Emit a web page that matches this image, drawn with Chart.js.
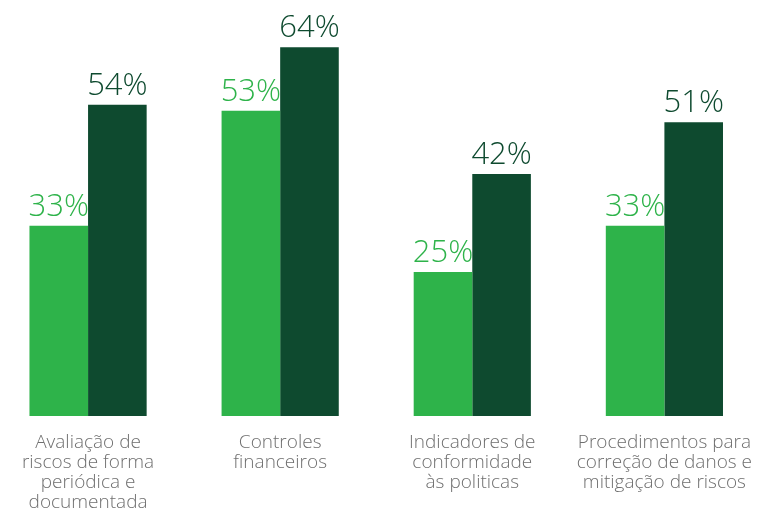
<!DOCTYPE html>
<html>
<head>
<meta charset="utf-8">
<script src="https://cdn.jsdelivr.net/npm/chart.js@4"></script>
<style>
  html, body { margin: 0; padding: 0; background: #fff; overflow: hidden; }
  #wrap { position: absolute; left: -8px; top: 0; width: 769px; height: 513px; }
</style>
</head>
<body>
<div id="wrap"><canvas id="chart"></canvas></div>
<script>
const categories = [
    ['Avaliação de', 'riscos de forma', 'periódica e', 'documentada'],
    ['Controles', 'financeiros'],
    ['Indicadores de', 'conformidade', 'às politicas'],
    ['Procedimentos para', 'correção de danos e', 'mitigação de riscos']
];
const seriesLight = [33, 53, 25, 33];
const seriesDark = [54, 64, 42, 51];

const LIGHT = '#2eb34a';
const DARK = '#0e4a2f';
const FONT = "'Open Sans', 'DejaVu Sans', sans-serif";

// valores em cima das barras
const valueLabels = {
    id: 'valueLabels',
    afterDatasetsDraw(chart) {
        const ctx = chart.ctx;
        ctx.save();
        ctx.font = `300 31px ${FONT}`;
        ctx.textAlign = 'center';
        ctx.textBaseline = 'alphabetic';
        chart.data.datasets.forEach((ds, i) => {
            const meta = chart.getDatasetMeta(i);
            ctx.fillStyle = ds.backgroundColor;
            meta.data.forEach((bar, j) => {
                ctx.fillText(ds.data[j] + '%', bar.x, bar.y - 10);
            });
        });
        ctx.restore();
    }
};

new Chart(document.getElementById('chart'), {
    type: 'bar',
    data: {
        labels: categories,
        datasets: [
            { data: seriesLight, backgroundColor: LIGHT, borderWidth: 0 },
            { data: seriesDark, backgroundColor: DARK, borderWidth: 0 }
        ]
    },
    options: {
        responsive: true,
        maintainAspectRatio: false,
        animation: false,
        layout: { padding: 0 },
        plugins: {
            legend: { display: false },
            tooltip: { enabled: false }
        },
        datasets: {
            bar: { categoryPercentage: 0.61, barPercentage: 1.0 }
        },
        scales: {
            x: {
                grid: { display: false },
                border: { display: false },
                ticks: {
                    color: '#6f6f6f',
                    padding: 9,
                    maxRotation: 0,
                    autoSkip: false,
                    font: { family: FONT, size: 19, weight: '300', lineHeight: 1.05 }
                },
                afterFit(scale) { scale.height = 97; }
            },
            y: {
                display: false,
                min: 0,
                max: 72.2
            }
        }
    },
    plugins: [valueLabels]
});
</script>
</body>
</html>
